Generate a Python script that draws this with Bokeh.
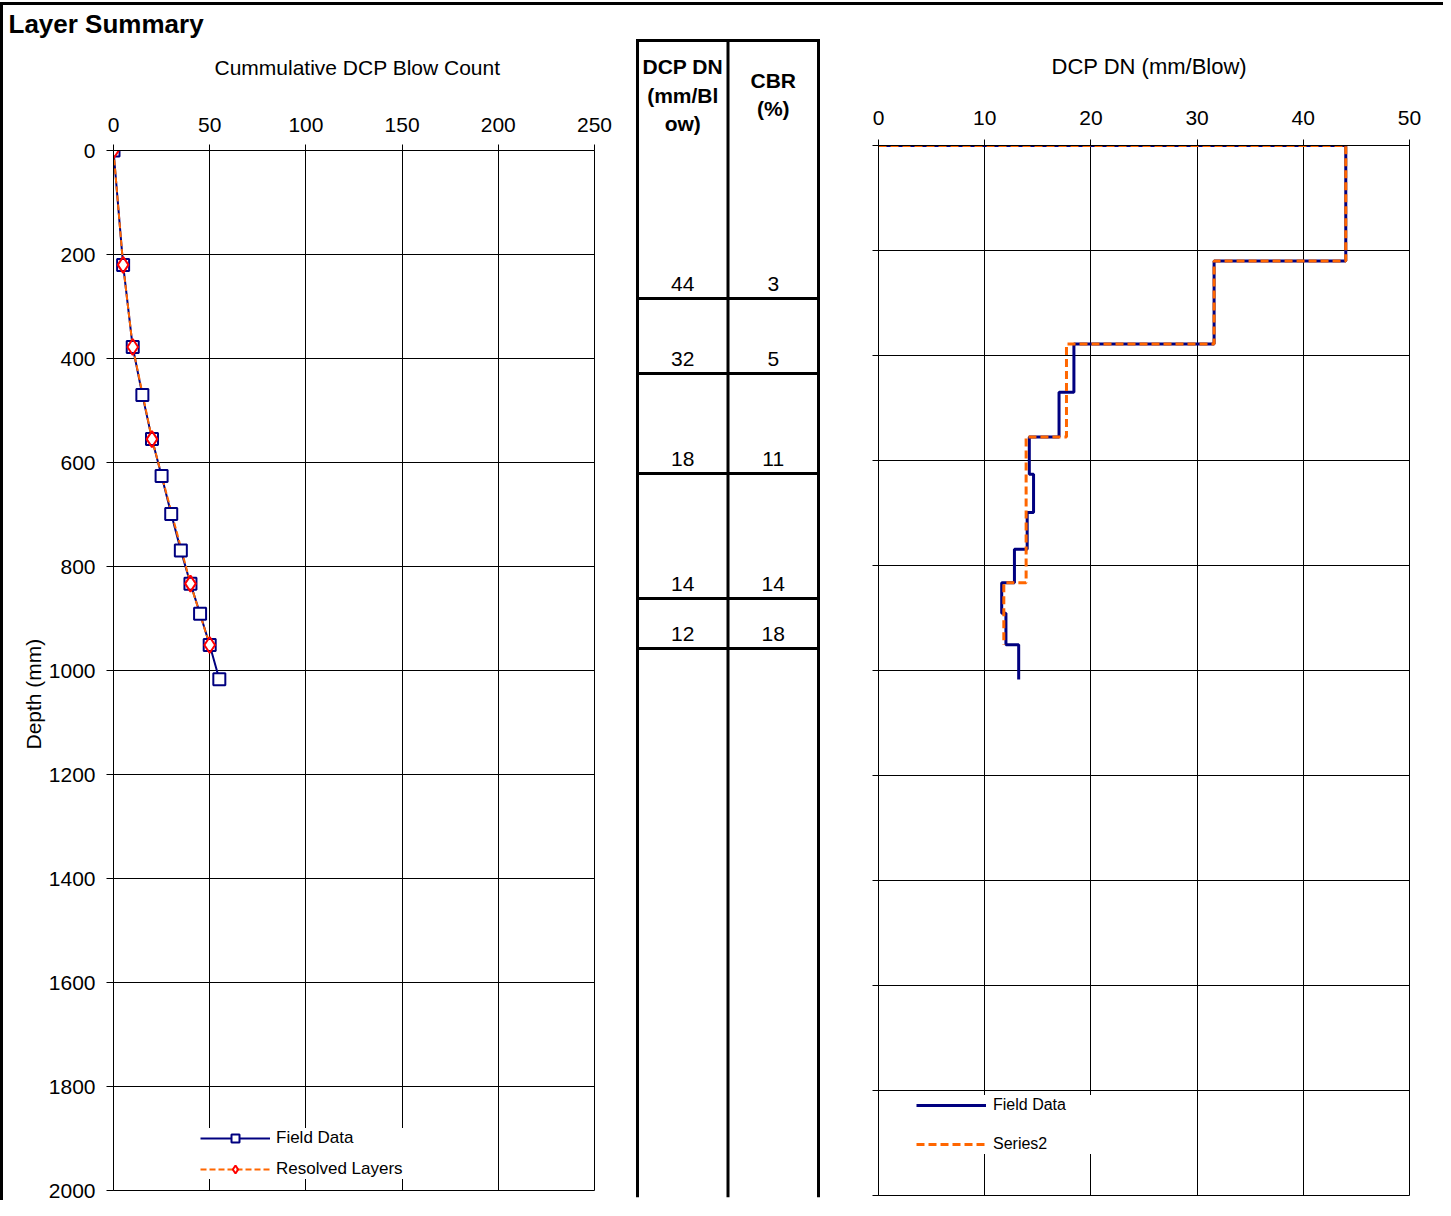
import math
from bokeh.plotting import figure
from bokeh.models import Range1d, FixedTicker, Title, Legend, LegendItem, ColumnDataSource
from bokeh.layouts import row
from bokeh.embed import file_html
from bokeh.resources import INLINE
from bokeh.core.properties import value

FONT = "Liberation Sans"

# ---------------- data ----------------
field_blows = [0, 5, 10, 15, 20, 25, 30, 35, 40, 45, 50, 55]
field_depth = [0, 220, 378, 470, 555, 626, 699, 769, 833, 891, 951, 1017]
layer_blows = [0, 5, 10, 20, 40, 50]
layer_depth = [0, 220, 378, 555, 833, 951]
table_dn = [44, 32, 18, 14, 12]
table_cbr = [3, 5, 11, 14, 18]
blow_ticks = [0, 50, 100, 150, 200, 250]
depth_ticks = [0, 200, 400, 600, 800, 1000, 1200, 1400, 1600, 1800, 2000]
dn_ticks = [0, 10, 20, 30, 40, 50]
# table layout: row boundaries (px below table top)
table_row_edges = [0, 258, 333, 433, 558, 608]
table_bottom = 1157


def steps(blows, depth):
    xs, ys = [0], [0]
    for i in range(1, len(depth)):
        dn = (depth[i] - depth[i - 1]) / (blows[i] - blows[i - 1])
        xs += [dn, dn]
        ys += [depth[i - 1], depth[i]]
    return xs, ys


def style_axes(p, xticks, yticks, ylabels=True, xstand=11):
    p.xaxis.ticker = FixedTicker(ticks=xticks)
    p.yaxis.ticker = FixedTicker(ticks=yticks)
    for ax in p.axis:
        ax.minor_tick_line_color = None
        ax.major_tick_in = 0
        ax.axis_line_color = "black"
        ax.major_tick_line_color = "black"
        ax.major_label_text_font = FONT
        ax.major_label_text_font_size = "21px"
        ax.major_label_text_color = "black"
    p.xaxis.major_tick_out = 6
    p.xaxis.major_label_standoff = xstand
    p.yaxis.major_tick_out = 7
    p.yaxis.major_label_standoff = 11
    if not ylabels:
        p.yaxis.major_label_overrides = {t: "" for t in yticks}
        p.yaxis.major_label_standoff = 0
    p.xgrid.ticker = FixedTicker(ticks=xticks)
    p.ygrid.ticker = FixedTicker(ticks=yticks)
    p.grid.grid_line_color = "black"
    p.grid.grid_line_width = 1
    p.grid.grid_line_alpha = 1
    p.outline_line_color = "black"
    p.background_fill_color = "white"
    p.border_fill_color = "white"


def spacer(h):
    return Title(text=" ", text_font_size="1px", standoff=h)


# ---------------- left chart: cumulative blows ----------------
p1 = figure(width=623, height=1195, x_range=Range1d(0, 250), y_range=Range1d(2000, 0),
            x_axis_location="above", output_backend="svg", toolbar_location=None,
            min_border_left=110, min_border_right=32, min_border_top=145, min_border_bottom=10,
            frame_align=False)
style_axes(p1, blow_ticks, depth_ticks, xstand=13)

p1.add_layout(spacer(18), "above")
p1.add_layout(Title(text="Cummulative DCP Blow Count", align="left", text_font=FONT,
                    text_font_size="21px", text_font_style="normal", text_color="black",
                    standoff=30, offset=101), "above")
p1.add_layout(Title(text="Layer Summary", align="left", text_font=FONT,
                    text_font_size="26px", text_font_style="bold", text_color="black",
                    standoff=0, offset=-105), "above")
p1.add_layout(Title(text="Depth (mm)", align="left", text_font=FONT,
                    text_font_size="21px", text_font_style="normal", text_color="black",
                    standoff=2, offset=441), "left")

l1 = p1.line(field_blows, field_depth, line_color="#000080", line_width=2)
l2 = p1.line(layer_blows, layer_depth, line_color="#FF6600", line_width=2, line_dash="6 3")
s1 = p1.scatter(field_blows, field_depth, marker="square", size=12, line_color="#000080",
                line_width=2, fill_color="white")
s2 = p1.scatter(layer_blows, layer_depth, marker="diamond", size=16,
                line_color="#FF0000", line_width=2, fill_color=None)

leg1 = Legend(items=[LegendItem(label="Field Data", renderers=[l1, s1]),
                     LegendItem(label="Resolved Layers", renderers=[l2, s2])],
              location=(87, 11), glyph_width=70, glyph_height=20, label_standoff=6,
              spacing=11, padding=6, margin=0, label_height=20,
              label_text_font=FONT, label_text_font_size="17px", label_text_color="black",
              background_fill_color="white", background_fill_alpha=1, border_line_color=None)
p1.add_layout(leg1)

# ---------------- middle table ----------------
p2 = figure(width=226, height=1195, x_range=Range1d(-7 / 90.5, 2 + 7 / 90.5),
            y_range=Range1d(table_bottom, -6), x_axis_location=None, y_axis_location=None,
            output_backend="svg", toolbar_location=None,
            min_border_left=4, min_border_right=27, min_border_top=29, min_border_bottom=3,
            frame_align=False)
p2.grid.visible = False
p2.outline_line_color = None
p2.background_fill_color = "white"
p2.border_fill_color = "white"

p2.segment(x0=[0, 1, 2], y0=[0, 0, 0], x1=[0, 1, 2], y1=[table_bottom] * 3,
           line_color="black", line_width=3)
p2.segment(x0=[0] * len(table_row_edges), y0=table_row_edges,
           x1=[2] * len(table_row_edges), y1=table_row_edges,
           line_color="black", line_width=3, line_cap="square")

hdr = ColumnDataSource(dict(x=[0.5, 0.5, 0.5, 1.5, 1.5], y=[26, 55, 83, 40, 68],
                            t=["DCP DN", "(mm/Bl", "ow)", "CBR", "(%)"]))
p2.text(x="x", y="y", text="t", source=hdr, text_font=value(FONT), text_font_size="21px",
        text_font_style="bold", text_align="center", text_baseline="middle")

vals_y = [e - 15 for e in table_row_edges[1:]]
vals = ColumnDataSource(dict(x=[0.5] * len(table_dn) + [1.5] * len(table_cbr),
                             y=vals_y + vals_y,
                             t=[str(v) for v in table_dn] + [str(v) for v in table_cbr]))
p2.text(x="x", y="y", text="t", source=vals, text_font=value(FONT), text_font_size="21px",
        text_align="center", text_baseline="middle")

# ---------------- right chart: DN profile ----------------
p3 = figure(width=591, height=1195, x_range=Range1d(0, 50), y_range=Range1d(2000, 0),
            x_axis_location="above", output_backend="svg", toolbar_location=None,
            min_border_left=26, min_border_right=34, min_border_top=140, min_border_bottom=5,
            frame_align=False)
style_axes(p3, dn_ticks, depth_ticks, ylabels=False, xstand=15)
p3.yaxis.major_tick_out = 6
p3.add_layout(spacer(21), "above")
p3.add_layout(Title(text="DCP DN (mm/Blow)", align="left", text_font=FONT,
                    text_font_size="22px", text_font_style="normal", text_color="black",
                    standoff=10, offset=173), "above")

fx, fy = steps(field_blows, field_depth)
rx, ry = steps(layer_blows, layer_depth)
r1 = p3.line(fx, fy, line_color="#000080", line_width=3)
r2 = p3.line(rx, ry, line_color="#FF6600", line_width=3, line_dash="8 4")

leg3 = Legend(items=[LegendItem(label="Field Data", renderers=[r1]),
                     LegendItem(label="Series2", renderers=[r2])],
              location=(38, 41), glyph_width=70, glyph_height=20, label_standoff=7,
              spacing=19, padding=12, margin=0, label_height=20, label_width=100,
              label_text_font=FONT, label_text_font_size="16px", label_text_color="black",
              background_fill_color="white", background_fill_alpha=1, border_line_color=None)
p3.add_layout(leg3)

layout = row(p1, p2, p3, styles={"margin-left": "0px", "margin-top": "2px",
                                 "border-top": "3px solid black",
                                 "border-left": "3px solid black"})

open("out.html", "w").write(file_html(layout, INLINE))
